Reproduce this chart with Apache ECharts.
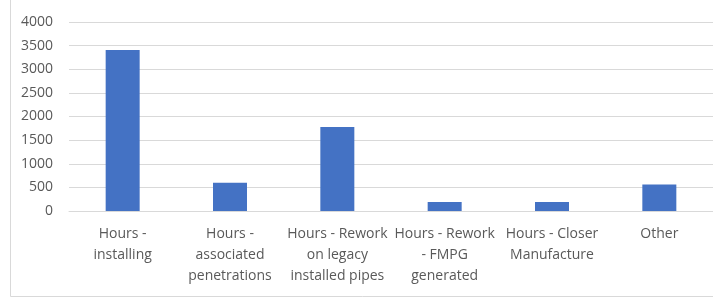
<!DOCTYPE html>
<html>
<head>
<meta charset="utf-8">
<script src="https://cdn.jsdelivr.net/npm/echarts@6/dist/echarts.min.js"></script>
<style>
  html, body { margin: 0; padding: 0; background: #fff; }
  #chart { width: 713px; height: 304px; }
</style>
</head>
<body>
<div id="chart"></div>
<script>
  // categories (wrapped as in the original axis)
  var categories = [
    "Hours -\ninstalling",
    "Hours -\nassociated\npenetrations",
    "Hours - Rework\non legacy\ninstalled pipes",
    "Hours - Rework\n- FMPG\ngenerated",
    "Hours - Closer\nManufacture",
    "Other"
  ];
  var hours = [3410, 600, 1780, 190, 190, 560];
  var yTicks = { min: 0, max: 4000, interval: 500 };

  var chart = echarts.init(document.getElementById("chart"));
  chart.setOption({
    animation: false,
    textStyle: { fontFamily: "Open Sans" },
    graphic: [
      {
        type: "rect",
        shape: { x: 10.5, y: -2, width: 720, height: 298.5 },
        style: { fill: "none", stroke: "#d9d9d9", lineWidth: 1 },
        z: -1
      }
    ],
    grid: { left: 69, right: -1, top: 22, bottom: 93 },
    xAxis: {
      type: "category",
      data: categories,
      axisLine: { lineStyle: { color: "#d9d9d9" } },
      axisTick: { show: false },
      axisLabel: {
        interval: 0,
        color: "#595959",
        fontSize: 14,
        lineHeight: 21,
        margin: 13
      }
    },
    yAxis: {
      type: "value",
      min: yTicks.min,
      max: yTicks.max,
      interval: yTicks.interval,
      axisLine: { show: false },
      axisTick: { show: false },
      splitLine: { lineStyle: { color: "#d9d9d9" } },
      axisLabel: {
        color: "#595959",
        fontSize: 14,
        margin: 16,
        formatter: function (v) { return String(v); }
      }
    },
    series: [
      {
        type: "bar",
        data: hours,
        barWidth: 34,
        itemStyle: { color: "#4472c4" }
      }
    ]
  });
</script>
</body>
</html>
